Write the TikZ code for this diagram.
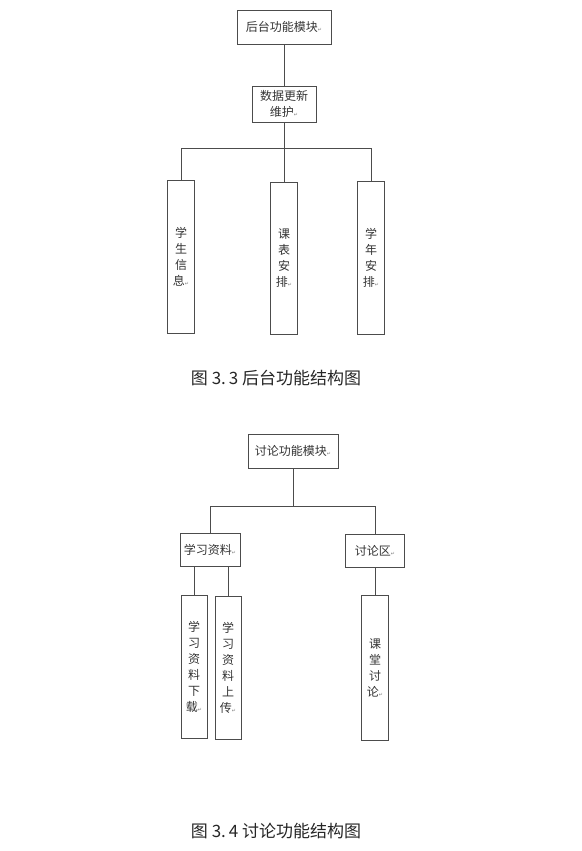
\documentclass[tikz,border=0pt]{standalone}
\usepackage{fontspec}
\usepackage{xcolor}
\usetikzlibrary{positioning, calc}
\setmainfont{Noto Sans CJK SC}
\newfontfamily\retfont{DejaVu Sans}
\newcommand{\ret}{{\retfont\fontsize{5}{5}\selectfont\color{black!50}↵}}
\tikzset{
  module/.style={
    rectangle,
    draw=black!70,
    line width=0.8pt,
    inner sep=0pt,
    text centered,
    align=center,
    text=black!80,
    font=\fontsize{12}{16}\selectfont
  },
  column/.style={
    module,
    minimum width=27pt
  },
  link/.style={
    draw=black!70,
    line width=0.8pt
  },
  caption/.style={
    text=black!85,
    font=\fontsize{17}{19}\selectfont
  }
}
\begin{document}
\begin{tikzpicture}[x=1pt,y=-1pt]
\useasboundingbox (0,0) rectangle (581,851);

% Nodes (fig 3.3)
\node (backend) [module, minimum width=94pt, minimum height=34pt] at (284,27) {后台功能模块\ret};
\node (update) [module, minimum width=64pt, minimum height=36pt] at (284,104) {数据更新\\维护\ret};
\coordinate (split1) at (284,148);
\node (info) [column, minimum height=153pt] at (181,257) {学\\生\\信\\息\ret};
\node (course) [column, minimum height=152pt] at (284,258) {课\\表\\安\\排\ret};
\node (year) [column, minimum height=153pt] at (371,258) {学\\年\\安\\排\ret};
\node (cap1) [caption] at (276,378) {图 3.\,3 后台功能结构图};

% Arrows (fig 3.3)
\draw [link] (backend) -- (update);
\draw [link] (update) -- (split1);
\draw [link] (split1) -| (info);
\draw [link] (split1) -- (course);
\draw [link] (split1) -| (year);

% Nodes (fig 3.4)
\node (discuss) [module, minimum width=90pt, minimum height=34pt] at (293,451) {讨论功能模块\ret};
\coordinate (split2) at (293,506);
\node (material) [module, minimum width=60pt, minimum height=33pt] at (210,550) {学习资料\ret};
\node (forum) [module, minimum width=59pt, minimum height=33pt] at (375,551) {讨论区\ret};
\node (download) [column, minimum width=26pt, minimum height=143pt] at (194,667) {学\\习\\资\\料\\下\\载\ret};
\node (upload) [column, minimum width=26pt, minimum height=143pt] at (228,668) {学\\习\\资\\料\\上\\传\ret};
\node (topic) [column, minimum height=145pt] at (375,668) {课\\堂\\讨\\论\ret};
\node (cap2) [caption] at (276,831) {图 3.\,4 讨论功能结构图};

% Arrows (fig 3.4)
\draw [link] (discuss) -- (split2);
\draw [link] (split2) -| (material);
\draw [link] (split2) -| (forum);
\draw [link] (download.north) -- (download.north |- material.south);
\draw [link] (upload.north) -- (upload.north |- material.south);
\draw [link] (forum) -- (topic);
\end{tikzpicture}
\end{document}
